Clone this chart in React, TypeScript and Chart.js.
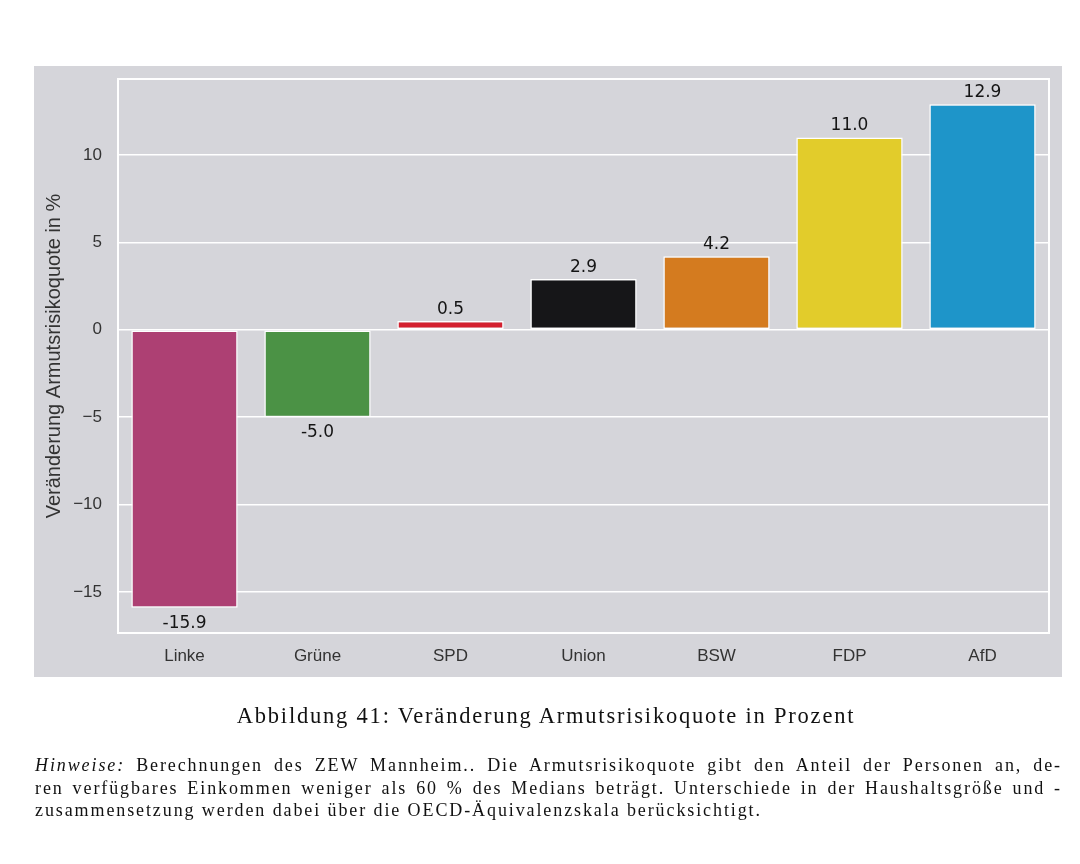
import React, { useEffect, useRef } from "react";
import { Chart, registerables } from "chart.js";

Chart.register(...registerables);

const categories = ["Linke", "Grüne", "SPD", "Union", "BSW", "FDP", "AfD"];
const values = [-15.9, -5.0, 0.5, 2.9, 4.2, 11.0, 12.9];
const barColors = ["#ad4073", "#4b9245", "#d4202f", "#161618", "#d47b1f", "#e2cc2b", "#1e95c9"];
const yTicks = [-15, -10, -5, 0, 5, 10];
const yTitle = "Veränderung Armutsrisikoquote in %";
const caption = "Abbildung 41: Veränderung Armutsrisikoquote in Prozent";
const noteLines = [
  "Berechnungen des ZEW Mannheim.. Die Armutsrisikoquote gibt den Anteil der Personen an, de-",
  "ren verfügbares Einkommen weniger als 60 % des Medians beträgt. Unterschiede in der Haushaltsgröße und -",
  "zusammensetzung werden dabei über die OECD-Äquivalenzskala berücksichtigt.",
];

const PANEL = "#d5d5da";
const SANS = "'Liberation Sans', Arial, sans-serif";
const DEJAVU = "'DejaVu Sans', sans-serif";
const SERIF = "'Liberation Serif', 'DejaVu Serif', serif";

export default function App() {
  const ref = useRef<HTMLCanvasElement | null>(null);

  useEffect(() => {
    const canvas = ref.current;
    if (!canvas) return;
    const minV = Math.min(...values);
    const maxV = Math.max(...values);
    const pad = (maxV - minV) * 0.05;

    const bgPlugin = {
      id: "panelbg",
      beforeDraw(chart: any) {
        const ctx = chart.ctx;
        ctx.save();
        ctx.fillStyle = PANEL;
        ctx.fillRect(0, 0, chart.width, chart.height);
        ctx.restore();
      },
      beforeDatasetsDraw(chart: any) {
        const { ctx, chartArea } = chart;
        ctx.save();
        ctx.strokeStyle = "#ffffff";
        ctx.lineWidth = 2;
        ctx.strokeRect(chartArea.left, chartArea.top, chartArea.right - chartArea.left, chartArea.bottom - chartArea.top);
        ctx.restore();
      },
      afterDatasetsDraw(chart: any) {
        const { ctx } = chart;
        const meta = chart.getDatasetMeta(0);
        ctx.save();
        ctx.font = `17px ${DEJAVU}`;
        ctx.fillStyle = "#151515";
        ctx.textAlign = "center";
        ctx.textBaseline = "alphabetic";
        meta.data.forEach((bar: any, i: number) => {
          const v = values[i];
          const txt = v.toFixed(1);
          if (v >= 0) {
            ctx.fillText(txt, bar.x, bar.y - 7);
          } else {
            ctx.fillText(txt, bar.x, bar.y + 20);
          }
        });
        ctx.restore();
      },
    };

    const chart = new Chart(canvas, {
      type: "bar",
      data: {
        labels: categories,
        datasets: [
          {
            data: values,
            backgroundColor: barColors,
            borderColor: "#ffffff",
            borderWidth: 1.5,
            borderSkipped: false,
            categoryPercentage: 1,
            barPercentage: 0.8,
          },
        ],
      },
      options: {
        animation: false,
        responsive: false,
        maintainAspectRatio: false,
        layout: { padding: { top: 13, right: 13, left: 0, bottom: 0 } },
        plugins: {
          legend: { display: false },
          tooltip: { enabled: false },
        },
        scales: {
          x: {
            grid: { display: false, drawTicks: false },
            border: { display: false },
            ticks: {
              color: "#333333",
              font: { family: SANS, size: 17 },
              padding: 13,
            },
            afterFit(scale: any) {
              scale.height = 44;
            },
          },
          y: {
            min: minV - pad,
            max: maxV + pad,
            afterBuildTicks(scale: any) {
              scale.ticks = yTicks.map((v) => ({ value: v }));
            },
            grid: { color: "#ffffff", lineWidth: 1.5, drawTicks: false },
            border: { display: false },
            ticks: {
              color: "#333333",
              font: { family: SANS, size: 17 },
              padding: 16,
              callback: (v: any) => (Number(v) < 0 ? "\u2212" + Math.abs(Number(v)) : String(v)),
            },
            title: {
              display: true,
              text: yTitle,
              color: "#333333",
              font: { family: SANS, size: 20 },
              padding: { top: 8, bottom: 0 },
            },
            afterFit(scale: any) {
              scale.width = 84;
              scale.paddingTop = 0;
              scale.paddingBottom = 0;
            },
          },
        },
      },
      plugins: [bgPlugin],
    } as any);
    return () => chart.destroy();
  }, []);

  return (
    <div style={{ position: "fixed", left: 0, top: 0, width: 1080, height: 864, background: "#fff" }}>
      <canvas
        ref={ref}
        width={1028}
        height={611}
        style={{ position: "absolute", left: 34, top: 66, width: 1028, height: 611 }}
      />
      <div
        style={{
          position: "absolute",
          left: 0,
          width: 1092,
          top: 702,
          textAlign: "center",
          fontFamily: SERIF,
          fontSize: 22.5,
          color: "#111",
          lineHeight: "28px",
          letterSpacing: "1.8px",
        }}
      >
        {caption}
      </div>
      <div
        style={{
          position: "absolute",
          left: 35,
          width: 1027,
          top: 754,
          fontFamily: SERIF,
          fontSize: 18,
          color: "#111",
          lineHeight: "22.5px",
          letterSpacing: "1.9px",
        }}
      >
        {noteLines.map((line, i) => (
          <div
            key={i}
            style={{
              textAlign: i < noteLines.length - 1 ? "justify" : "left",
              textAlignLast: i < noteLines.length - 1 ? "justify" : "left",
              whiteSpace: "nowrap",
            } as any}
          >
            {i === 0 ? (
              <>
                <span style={{ fontStyle: "italic" }}>Hinweise:</span> {line}
              </>
            ) : (
              line
            )}
          </div>
        ))}
      </div>
    </div>
  );
}
